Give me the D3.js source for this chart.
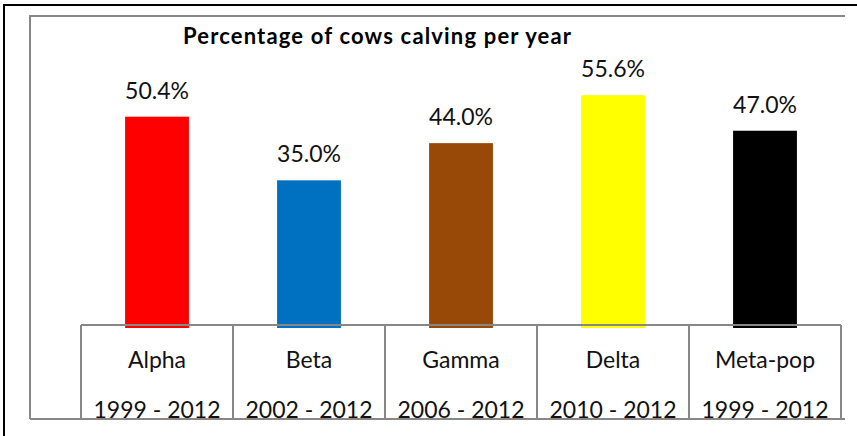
<!DOCTYPE html>
<html>
<head>
<meta charset="utf-8">
<script src="https://cdn.jsdelivr.net/npm/d3@7"></script>
<style>
  html, body { margin: 0; padding: 0; background: #fff; }
  svg { display: block; font-family: Lato, "Liberation Sans", sans-serif; }
</style>
</head>
<body>
<div id="chart"></div>
<script>
// Percentage of cows calving per year, by population
const populations = ["Alpha", "Beta", "Gamma", "Delta", "Meta-pop"];
const periods = ["1999 - 2012", "2002 - 2012", "2006 - 2012", "2010 - 2012", "1999 - 2012"];
const calvingPct = [50.4, 35.0, 44.0, 55.6, 47.0];
const barColors = ["#ff0000", "#0070c0", "#984807", "#ffff00", "#000000"];

(function () {
  const W = 857, H = 436;
  const svg = d3.select("#chart").append("svg")
    .attr("width", W).attr("height", H);

  const data = populations.map((p, i) => ({
    name: p, period: periods[i], value: calvingPct[i], color: barColors[i]
  }));

  // plot geometry
  const plotLeft = 30, plotTop = 16, plotRight = 845, plotBottom = 419;
  const axisY = 325;

  const x = d3.scaleBand().domain(populations).range([81, 841]).padding(0);
  const y = d3.scaleLinear().domain([0, 60]).range([axisY, 77]);
  const barW = x.bandwidth() * 0.42;

  // outer chart border
  svg.append("rect")
    .attr("x", 4).attr("y", 5).attr("width", 900).attr("height", 500)
    .attr("fill", "none").attr("stroke", "#000").attr("stroke-width", 2);

  const grey = "#878787";

  // plot area border (top + left)
  svg.append("path")
    .attr("d", `M${plotLeft},${plotBottom}V${plotTop}H${plotRight}`)
    .attr("fill", "none").attr("stroke", grey).attr("stroke-width", 2);

  // title
  svg.append("text")
    .attr("x", 377).attr("y", 44)
    .attr("text-anchor", "middle")
    .attr("font-size", "22px").attr("font-weight", "bold").attr("fill", "#000")
    .attr("textLength", 388).attr("lengthAdjust", "spacing")
    .text("Percentage of cows calving per year");

  // bars
  svg.append("g").selectAll("rect")
    .data(data)
    .join("rect")
    .attr("x", d => x(d.name) + (x.bandwidth() - barW) / 2)
    .attr("y", d => y(d.value))
    .attr("width", barW)
    .attr("height", d => y(0) - y(d.value) + 3)
    .attr("fill", d => d.color);

  // value labels
  svg.append("g").selectAll("text")
    .data(data)
    .join("text")
    .attr("x", d => x(d.name) + x.bandwidth() / 2)
    .attr("y", d => y(d.value) - 18)
    .attr("text-anchor", "middle")
    .attr("font-size", "23px").attr("fill", "#111")
    .text(d => d.value.toFixed(1) + "%");

  // category table: axis line, dividers, bottom line
  svg.append("line")
    .attr("x1", x.range()[0]).attr("x2", x.range()[1])
    .attr("y1", axisY).attr("y2", axisY)
    .attr("stroke", grey).attr("stroke-width", 2);

  const edges = populations.map(p => x(p)).concat([x.range()[1]]);
  svg.append("g").selectAll("line")
    .data(edges)
    .join("line")
    .attr("x1", d => d).attr("x2", d => d)
    .attr("y1", axisY).attr("y2", plotBottom)
    .attr("stroke", grey).attr("stroke-width", 2);

  const labels = svg.append("g");
  labels.selectAll("text.name")
    .data(data)
    .join("text")
    .attr("class", "name")
    .attr("x", d => x(d.name) + x.bandwidth() / 2)
    .attr("y", 368)
    .attr("text-anchor", "middle")
    .attr("font-size", "23px").attr("fill", "#111")
    .text(d => d.name);

  labels.selectAll("text.period")
    .data(data)
    .join("text")
    .attr("class", "period")
    .attr("x", d => x(d.name) + x.bandwidth() / 2)
    .attr("y", 418)
    .attr("text-anchor", "middle")
    .attr("font-size", "23px").attr("fill", "#111")
    .text(d => d.period);

  svg.append("line")
    .attr("x1", plotLeft).attr("x2", plotRight)
    .attr("y1", plotBottom).attr("y2", plotBottom)
    .attr("stroke", grey).attr("stroke-width", 2);
})();
</script>
</body>
</html>
